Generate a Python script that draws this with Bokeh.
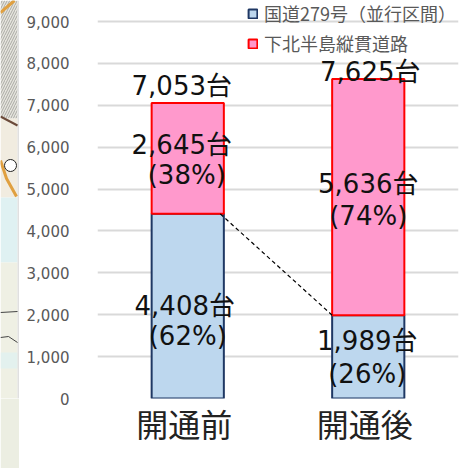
from bokeh.plotting import figure
from bokeh.layouts import row
from bokeh.models import ColumnDataSource, Range1d, FixedTicker, Legend, LegendItem, NumeralTickFormatter
from bokeh.core.properties import value
from bokeh.embed import file_html
from bokeh.resources import INLINE

categories = ["開通前", "開通後"]
national_road = [4408, 1989]
shimokita_road = [2645, 5636]
totals = [7053, 7625]
national_pct = [62, 26]
shimokita_pct = [38, 74]
y_ticks = [0, 1000, 2000, 3000, 4000, 5000, 6000, 7000, 8000, 9000]
series_names = ["国道279号（並行区間）", "下北半島縦貫道路"]

FONT = "DejaVu Sans, Noto Sans CJK JP"
CJK = "Noto Sans CJK JP"
BAR_W = 0.4
H = 468
FRAME_BOTTOM = 398
x = [i + 0.5 for i in range(len(categories))]

# ---- the sliver of a map along the left edge of the picture ----
m = figure(width=19, height=H, output_backend="svg", toolbar_location=None,
           x_range=Range1d(0, 19), y_range=Range1d(FRAME_BOTTOM, 0),
           x_axis_location=None, y_axis_location=None,
           min_border=0, outline_line_color=None, background_fill_color="white",
           border_fill_color="#eceee2")
m.grid.visible = False
m.quad(left=0, right=17, top=0, bottom=118, fill_color="#e6e5de", line_color=None,
       hatch_pattern="right_diagonal_line", hatch_color="#a9a9a4", hatch_scale=5, hatch_weight=1)
m.quad(left=0, right=17, top=118, bottom=197, fill_color="#f1ece0", line_color=None)
m.quad(left=0, right=17, top=197, bottom=262, fill_color="#dff1f2", line_color=None)
m.quad(left=0, right=17, top=262, bottom=FRAME_BOTTOM, fill_color="#eff0e4", line_color=None)
m.quad(left=0, right=17, top=352, bottom=368, fill_color="#e3f1ee", line_color=None)
m.quad(left=17, right=19, top=0, bottom=FRAME_BOTTOM, fill_color="#e0e0e0", line_color=None)
m.line([0, 14], [12, 0], line_color="#e0a040", line_width=3)
m.line([0, 17], [116, 125], line_color="#6b4a3a", line_width=2)
m.line([0, 6, 16], [160, 178, 196], line_color="#e0a040", line_width=3)
m.line([0, 17], [312, 311], line_color="#444444", line_width=1)
m.line([0, 8, 17], [337, 336, 342], line_color="#444444", line_width=1)
m.scatter([10], [165], size=12, marker="circle", fill_color="white", line_color="#222222")

# ---- the chart ----
y_end = 9000 * FRAME_BOTTOM / 377
p = figure(width=441, height=H, output_backend="svg", toolbar_location=None,
           x_range=Range1d(0, 2), y_range=Range1d(0, y_end),
           min_border_left=78, min_border_right=2, min_border_top=0, min_border_bottom=H - FRAME_BOTTOM,
           outline_line_color=None, background_fill_color="white")

src = ColumnDataSource(dict(
    x=x, national=national_road, shimokita=shimokita_road,
    top2=[a + b for a, b in zip(national_road, shimokita_road)]))
r1 = p.vbar(x="x", width=BAR_W, bottom=0, top="national", source=src,
            fill_color="#BDD7EE", line_color="#1F3864", line_width=2)
r2 = p.vbar(x="x", width=BAR_W, bottom="national", top="top2", source=src,
            fill_color="#FF99CC", line_color="#FF0000", line_width=2)

p.line([x[0] + BAR_W / 2 - 0.02, x[1] - BAR_W / 2], national_road,
       line_color="black", line_width=1.2, line_dash="4 3")

p.xgrid.visible = False
p.ygrid.ticker = FixedTicker(ticks=y_ticks)
p.ygrid.grid_line_color = "#D9D9D9"
p.ygrid.grid_line_width = 2

p.yaxis.ticker = FixedTicker(ticks=y_ticks)
p.yaxis.formatter = NumeralTickFormatter(format="0,0")
p.yaxis.axis_line_color = None
p.yaxis.major_tick_line_color = None
p.yaxis.minor_tick_line_color = None
p.yaxis.major_label_standoff = 22
p.yaxis.major_label_text_font = "DejaVu Sans"
p.yaxis.major_label_text_font_size = "15px"
p.yaxis.major_label_text_color = "#595959"

label_ticks = [v - 0.02 for v in x]
p.xaxis.ticker = FixedTicker(ticks=label_ticks)
p.xaxis.major_label_overrides = {v: c for v, c in zip(label_ticks, categories)}
p.xaxis.axis_line_color = None
p.xaxis.major_tick_line_color = None
p.xaxis.minor_tick_line_color = None
p.xaxis.major_label_standoff = -5
p.xaxis.major_label_text_font = CJK
p.xaxis.major_label_text_font_size = "32px"
p.xaxis.major_label_text_color = "#222222"


def label(xs, ys, texts, dx, dy):
    p.text(xs, ys, text=texts, x_offset=dx, y_offset=dy, text_align="center",
           text_baseline="middle", text_color="#111111",
           text_font=value(FONT), text_font_size="26px")


mid1 = [v / 2 for v in national_road]
mid2 = [a + b / 2 for a, b in zip(national_road, shimokita_road)]

label([x[0]], [totals[0]], [f"{totals[0]:,}台"], -6, -17)
label([x[1]], [totals[1]], [f"{totals[1]:,}台"], 2, -7)
label([x[0]], [mid2[0]], [f"{shimokita_road[0]:,}台"], -6, -13)
label([x[0]], [mid2[0]], [f"({shimokita_pct[0]}%)"], -1, 17)
label([x[1]], [mid2[1]], [f"{shimokita_road[1]:,}台"], 0, -13)
label([x[1]], [mid2[1]], [f"({shimokita_pct[1]}%)"], 0, 19)
label([x[0]], [mid1[0]], [f"{national_road[0]:,}台"], -3, 0)
label([x[0]], [mid1[0]], [f"({national_pct[0]}%)"], 0, 30)
label([x[1]], [mid1[1]], [f"{national_road[1]:,}台"], -1, -16)
label([x[1]], [mid1[1]], [f"({national_pct[1]}%)"], -1, 17)

legend = Legend(items=[LegendItem(label=series_names[0], renderers=[r1]),
                       LegendItem(label=series_names[1], renderers=[r2])],
                location=(150, 342), orientation="vertical",
                background_fill_alpha=0, border_line_color=None,
                padding=0, margin=0, spacing=4, glyph_width=11, glyph_height=11,
                label_standoff=6, label_text_font=CJK, label_text_font_size="18px",
                label_text_color="#595959", label_height=24)
p.add_layout(legend, "center")

open("out.html", "w").write(file_html(row(m, p), INLINE))
